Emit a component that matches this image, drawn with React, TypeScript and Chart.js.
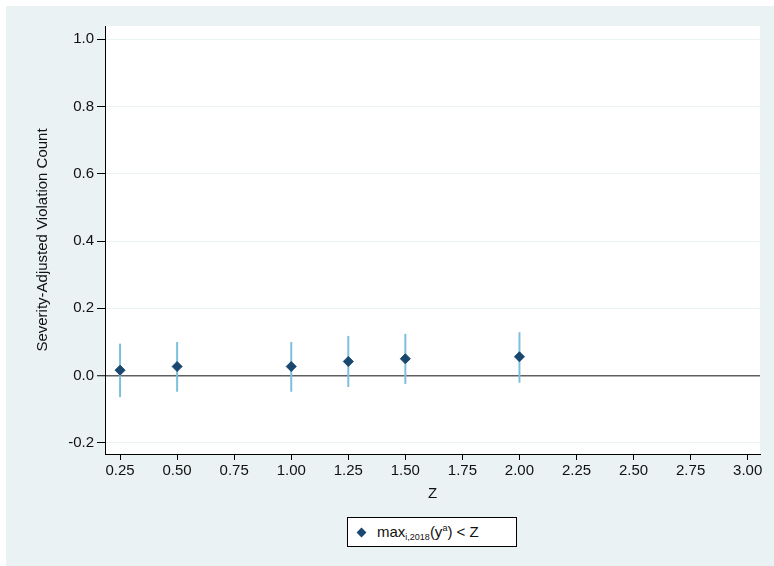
import React, { useEffect, useRef } from "react";
import { Chart, registerables } from "chart.js";

Chart.register(...registerables);

const zValues = [0.25, 0.5, 1.0, 1.25, 1.5, 2.0];
const estimates = [0.016, 0.027, 0.027, 0.042, 0.05, 0.056];
const ciLow = [-0.064, -0.048, -0.048, -0.034, -0.025, -0.021];
const ciHigh = [0.095, 0.1, 0.1, 0.118, 0.124, 0.129];
const xTicks = [0.25, 0.5, 0.75, 1.0, 1.25, 1.5, 1.75, 2.0, 2.25, 2.5, 2.75, 3.0];
const yTicks = [-0.2, 0, 0.2, 0.4, 0.6, 0.8, 1.0];

const FONT = "'Liberation Sans', Arial, Helvetica, sans-serif";
const NAVY = "#1A476F";
const CI_COLOR = "#7DC0DC";
const BG = "#EAF2F3";

const plotBgPlugin = {
  id: "plotBg",
  beforeDraw(chart: any) {
    const { ctx, chartArea } = chart;
    ctx.save();
    ctx.fillStyle = "#ffffff";
    ctx.fillRect(chartArea.left, chartArea.top, chartArea.right - chartArea.left, chartArea.bottom - chartArea.top);
    ctx.restore();
  },
};

const ciPlugin = {
  id: "ciBars",
  beforeDatasetsDraw(chart: any) {
    const { ctx, scales } = chart;
    const xs = scales.x;
    const ys = scales.y;
    ctx.save();
    ctx.strokeStyle = CI_COLOR;
    ctx.lineWidth = 2;
    zValues.forEach((z, i) => {
      const px = xs.getPixelForValue(z);
      ctx.beginPath();
      ctx.moveTo(px, ys.getPixelForValue(ciLow[i]));
      ctx.lineTo(px, ys.getPixelForValue(ciHigh[i]));
      ctx.stroke();
    });
    ctx.restore();
  },
};

export default function App() {
  const canvasRef = useRef<HTMLCanvasElement | null>(null);

  useEffect(() => {
    if (!canvasRef.current) return;
    const chart = new Chart(canvasRef.current, {
      type: "scatter",
      data: {
        datasets: [
          {
            label: "max",
            data: zValues.map((z, i) => ({ x: z, y: estimates[i] })),
            pointStyle: "rectRot",
            pointRadius: 5,
            pointBackgroundColor: NAVY,
            pointBorderColor: NAVY,
            pointBorderWidth: 1,
          },
        ],
      },
      options: {
        animation: false,
        responsive: false,
        maintainAspectRatio: false,
        layout: { padding: { top: 20, right: 14, bottom: 0, left: 0 } },
        plugins: {
          legend: { display: false },
          tooltip: { enabled: false },
        },
        scales: {
          x: {
            type: "linear",
            min: 0.184,
            max: 3.054,
            afterBuildTicks(scale: any) {
              scale.ticks = xTicks.map((v) => ({ value: v }));
            },
            afterFit(scale: any) {
              scale.height = 52;
            },
            border: { display: true, color: "#000", width: 1 },
            grid: { drawOnChartArea: false, drawTicks: true, tickLength: 6, tickColor: "#000", tickWidth: 1 },
            ticks: {
              color: "#111",
              font: { family: FONT, size: 15 },
              padding: 2,
              maxRotation: 0,
              autoSkip: false,
              callback: (v: any) => Number(v).toFixed(2),
            },
            title: {
              display: true,
              text: "Z",
              color: "#111",
              font: { family: FONT, size: 15 },
              padding: { top: 0, bottom: 3 },
            },
          },
          y: {
            type: "linear",
            min: -0.233,
            max: 1.039,
            afterBuildTicks(scale: any) {
              scale.ticks = yTicks.map((v) => ({ value: v }));
            },
            afterFit(scale: any) {
              scale.width = 99;
            },
            border: { display: true, color: "#000", width: 1 },
            grid: {
              drawOnChartArea: true,
              drawTicks: true,
              tickLength: 8,
              tickColor: "#000",
              tickWidth: 1,
              color: (ctx: any) => (ctx.tick && Math.abs(ctx.tick.value) < 1e-9 ? "#606060" : BG),
              lineWidth: (ctx: any) => (ctx.tick && Math.abs(ctx.tick.value) < 1e-9 ? 1.5 : 1),
            },
            ticks: {
              color: "#111",
              font: { family: FONT, size: 15 },
              padding: 3,
              autoSkip: false,
              callback: (v: any) => Number(v).toFixed(1),
            },
            title: {
              display: true,
              text: "Severity-Adjusted Violation Count",
              color: "#111",
              font: { family: FONT, size: 15 },
              padding: { top: 28, bottom: 0 },
            },
          },
        },
      },
      plugins: [plotBgPlugin, ciPlugin],
    });
    return () => chart.destroy();
  }, []);

  return (
    <div style={{ position: "absolute", left: 0, top: 0, width: 774, height: 566, background: "#fff", overflow: "hidden" }}>
      <div style={{ position: "absolute", left: 6, top: 6, width: 768, height: 560, background: BG }}>
        <canvas ref={canvasRef} width={768} height={500} style={{ position: "absolute", left: 0, top: 0, width: 768, height: 500 }} />
        <div
          style={{
            position: "absolute",
            left: 341,
            top: 511,
            width: 170,
            height: 30,
            background: "#fff",
            border: "1px solid #000",
            boxSizing: "border-box",
            fontFamily: FONT,
            fontSize: 15,
            color: "#111",
            display: "flex",
            alignItems: "center",
          }}
        >
          <span
            style={{
              display: "inline-block",
              width: 7,
              height: 7,
              background: NAVY,
              transform: "rotate(45deg)",
              marginLeft: 10,
              marginRight: 12,
            }}
          />
          <span style={{ whiteSpace: "nowrap" }}>
            max<sub style={{ fontSize: 9, verticalAlign: "-3px" }}>i,2018</sub>(y<sup style={{ fontSize: 9, verticalAlign: "6px" }}>a</sup>) &lt; Z
          </span>
        </div>
      </div>
    </div>
  );
}
